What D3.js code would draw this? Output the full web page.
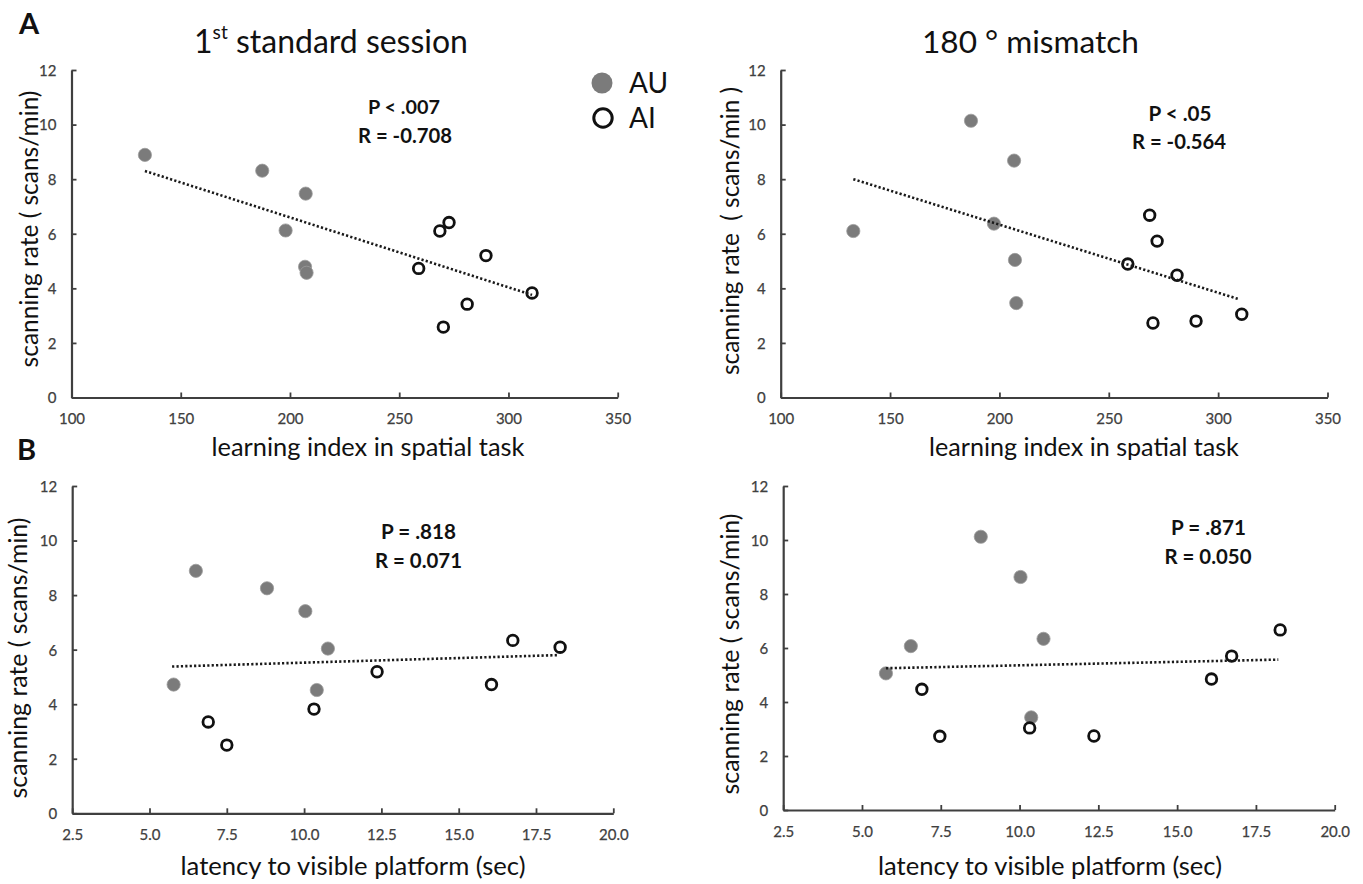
<!DOCTYPE html>
<html><head><meta charset="utf-8">
<script src="https://cdn.jsdelivr.net/npm/d3@7"></script>
<style>
body{margin:0;background:#fff}
svg{display:block}
text{font-family:Lato,"Open Sans",sans-serif}
</style>
</head><body>
<svg id="c" width="1363" height="884"></svg>
<script>
// ---------- data ----------
const scanTicks  = [0, 2, 4, 6, 8, 10, 12];
const learnTicks = [100, 150, 200, 250, 300, 350];
const latTicks   = [2.5, 5, 7.5, 10, 12.5, 15, 17.5, 20];

// A, left: 1st standard session
const auLearnStd = [133.6, 187.3, 207.2, 198.0, 206.9, 207.6];
const auScanStd  = [8.89, 8.31, 7.47, 6.12, 4.79, 4.57];
const aiLearnStd = [272.8, 268.6, 289.7, 258.9, 310.8, 281.1, 270.2];
const aiScanStd  = [6.41, 6.10, 5.20, 4.73, 3.83, 3.42, 2.58];
const trendStdX  = [133.6, 310.8];
const trendStdY  = [8.30, 3.76];

// A, right: 180° mismatch
const auLearnMis = [187.0, 206.7, 197.5, 133.2, 207.1, 207.7];
const auScanMis  = [10.14, 8.68, 6.37, 6.10, 5.04, 3.46];
const aiLearnMis = [268.7, 272.1, 258.7, 281.2, 310.8, 270.2, 289.9];
const aiScanMis  = [6.68, 5.73, 4.89, 4.48, 3.05, 2.73, 2.80];
const trendMisX  = [133.2, 309.2];
const trendMisY  = [8.00, 3.61];

// B, left: latency vs standard-session scanning
const auLatStd   = [6.50, 8.80, 10.04, 10.77, 5.78, 10.41];
const auScanLStd = [8.89, 8.25, 7.41, 6.04, 4.72, 4.52];
const aiLatStd   = [6.90, 7.50, 10.32, 12.36, 16.06, 16.75, 18.28];
const aiScanLStd = [3.35, 2.50, 3.82, 5.19, 4.72, 6.34, 6.09];
const trendLatStdX = [5.73, 18.22];
const trendLatStdY = [5.38, 5.80];

// B, right: latency vs mismatch scanning
const auLatMis   = [8.77, 10.03, 10.76, 6.55, 5.76, 10.37];
const auScanLMis = [10.12, 8.63, 6.34, 6.07, 5.06, 3.43];
const aiLatMis   = [6.90, 7.47, 10.32, 12.36, 16.09, 16.73, 18.27];
const aiScanLMis = [4.47, 2.73, 3.04, 2.74, 4.85, 5.70, 6.67];
const trendLatMisX = [5.76, 18.21];
const trendLatMisY = [5.25, 5.57];

const statsStd    = ["P < .007", "R = -0.708"];
const statsMis    = ["P < .05", "R = -0.564"];
const statsLatStd = ["P = .818", "R = 0.071"];
const statsLatMis = ["P = .871", "R = 0.050"];

const legendLabels = ["AU", "AI"];

// ---------- drawing ----------
const svg = d3.select('#c');
svg.append('rect').attr('width', 1363).attr('height', 884).attr('fill', '#fff');

const AU_FILL = '#7b7b7b', AXIS = '#3f3f3f', TICKTXT = '#404040';

function fit(sel, target) {
  const w = sel.node().getComputedTextLength();
  const fs = parseFloat(sel.attr('font-size'));
  sel.attr('font-size', (fs * target / w).toFixed(2));
}

const panels = [
  { xr: [71.5, 617.7], yr: [397.5, 70], xd: [100, 350], xt: learnTicks, xf: d3.format('d'),
    au: [auLearnStd, auScanStd], ai: [aiLearnStd, aiScanStd], tr: [trendStdX, trendStdY],
    stats: statsStd, sp: [[404, 114, 72], [405, 143, 94]],
    ylab: 'scanning rate ( scans/min)', ylx: 37.5, yly: 229, ylw: 277,
    xlab: 'learning index in spatial task', xlx: 368, xly: 456, xlw: 313 },
  { xr: [780.7, 1327.5], yr: [397.5, 70], xd: [100, 350], xt: learnTicks, xf: d3.format('d'),
    au: [auLearnMis, auScanMis], ai: [aiLearnMis, aiScanMis], tr: [trendMisX, trendMisY],
    stats: statsMis, sp: [[1180, 121, 63], [1179, 149, 94]],
    ylab: 'scanning rate  ( scans/min )', ylx: 739, yly: 231, ylw: 288,
    xlab: 'learning index in spatial task', xlx: 1084, xly: 456, xlw: 310 },
  { xr: [72.2, 613.3], yr: [813.3, 486], xd: [2.5, 20], xt: latTicks, xf: d3.format('.1f'),
    au: [auLatStd, auScanLStd], ai: [aiLatStd, aiScanLStd], tr: [trendLatStdX, trendLatStdY],
    stats: statsLatStd, sp: [[418.5, 539, 75], [418.5, 568, 87]],
    ylab: 'scanning rate ( scans/min)', ylx: 27, yly: 658, ylw: 281,
    xlab: 'latency to visible platform (sec)', xlx: 353, xly: 875, xlw: 345 },
  { xr: [783.2, 1334.7], yr: [810, 486], xd: [2.5, 20], xt: latTicks, xf: d3.format('.1f'),
    au: [auLatMis, auScanLMis], ai: [aiLatMis, aiScanLMis], tr: [trendLatMisX, trendLatMisY],
    stats: statsLatMis, sp: [[1208.5, 535, 75], [1208, 564, 87]],
    ylab: 'scanning rate ( scans/min)', ylx: 739, yly: 654, ylw: 281,
    xlab: 'latency to visible platform (sec)', xlx: 1050, xly: 875, xlw: 344 }
];

panels.forEach(p => {
  const x = d3.scaleLinear().domain(p.xd).range(p.xr);
  const y = d3.scaleLinear().domain([0, 12]).range(p.yr);
  const g = svg.append('g');

  // axes
  const xa = g.append('g').attr('transform', `translate(0,${p.yr[0]})`)
    .call(d3.axisBottom(x).tickValues(p.xt).tickFormat(p.xf).tickSize(-5).tickSizeOuter(0).tickPadding(16));
  const ya = g.append('g').attr('transform', `translate(${p.xr[0]},0)`)
    .call(d3.axisLeft(y).tickValues(scanTicks).tickSize(-5).tickSizeOuter(0).tickPadding(15));
  [xa, ya].forEach(a => {
    a.select('.domain').attr('stroke', AXIS).attr('stroke-width', 2.2);
    a.selectAll('.tick line').attr('stroke', AXIS).attr('stroke-width', 1.8);
    a.selectAll('.tick text').attr('fill', TICKTXT).attr('font-size', 15)
      .attr('font-family', 'Lato, sans-serif').attr('stroke', TICKTXT).attr('stroke-width', 0.25);
  });
  ya.selectAll('.tick text').attr('dy', '0.36em');

  // markers
  const au = p.au[0].map((v, i) => [v, p.au[1][i]]);
  const ai = p.ai[0].map((v, i) => [v, p.ai[1][i]]);
  g.selectAll('circle.au').data(au).enter().append('circle').attr('class', 'au')
    .attr('cx', d => x(d[0])).attr('cy', d => y(d[1])).attr('r', 6.6)
    .attr('fill', AU_FILL).attr('stroke', '#9a9a9a').attr('stroke-width', 0.8);
  g.selectAll('circle.ai').data(ai).enter().append('circle').attr('class', 'ai')
    .attr('cx', d => x(d[0])).attr('cy', d => y(d[1])).attr('r', 5.3)
    .attr('fill', 'none').attr('stroke', '#111').attr('stroke-width', 2.8);

  // trend line
  const tr = p.tr[0].map((v, i) => [x(v), y(p.tr[1][i])]);
  g.append('path').attr('d', d3.line()(tr)).attr('fill', 'none')
    .attr('stroke', '#1a1a1a').attr('stroke-width', 2.6).attr('stroke-dasharray', '2.2,2.2');

  // stats
  p.stats.forEach((s, i) => {
    const t = g.append('text').attr('x', p.sp[i][0]).attr('y', p.sp[i][1])
      .attr('text-anchor', 'middle').attr('font-weight', 'bold').attr('font-size', 18)
      .attr('fill', '#111').text(s);
    fit(t, p.sp[i][2]);
  });

  // axis titles
  const yl = g.append('text').attr('transform', `translate(${p.ylx},${p.yly}) rotate(-90)`)
    .attr('text-anchor', 'middle').attr('font-size', 25).attr('fill', '#111')
    .style('white-space', 'pre').text(p.ylab);
  fit(yl, p.ylw);
  const xl = g.append('text').attr('x', p.xlx).attr('y', p.xly)
    .attr('text-anchor', 'middle').attr('font-size', 25).attr('fill', '#111').text(p.xlab);
  fit(xl, p.xlw);
});

// panel letters
svg.append('text').attr('x', 19).attr('y', 34).attr('font-size', 29).attr('font-weight', 'bold')
  .attr('fill', '#111').text('A');
svg.append('text').attr('x', 17).attr('y', 460).attr('font-size', 29).attr('font-weight', 'bold')
  .attr('fill', '#111').text('B');

// titles
const t1 = svg.append('text').attr('x', 331).attr('y', 53).attr('text-anchor', 'middle')
  .attr('font-size', 28).attr('fill', '#111');
t1.append('tspan').text('1');
t1.append('tspan').attr('font-size', '0.6em').attr('dy', '-0.75em').text('st');
t1.append('tspan').attr('dy', '0.45em').text('\u00a0standard session');
fit(t1, 274);
const t2 = svg.append('text').attr('x', 1030.5).attr('y', 53).attr('text-anchor', 'middle')
  .attr('font-size', 28).attr('fill', '#111').text('180 \u00b0 mismatch');
fit(t2, 217);

// legend
const lg = svg.append('g');
lg.append('circle').attr('cx', 602).attr('cy', 83).attr('r', 10.5).attr('fill', AU_FILL);
lg.append('circle').attr('cx', 603).attr('cy', 118).attr('r', 9.2)
  .attr('fill', 'none').attr('stroke', '#111').attr('stroke-width', 3);
lg.selectAll('text.leg').data(legendLabels).enter().append('text').attr('class', 'leg')
  .attr('x', 629).attr('y', (d, i) => 93 + i * 35).attr('font-size', 28).attr('fill', '#111')
  .text(d => d);
</script>
</body></html>
